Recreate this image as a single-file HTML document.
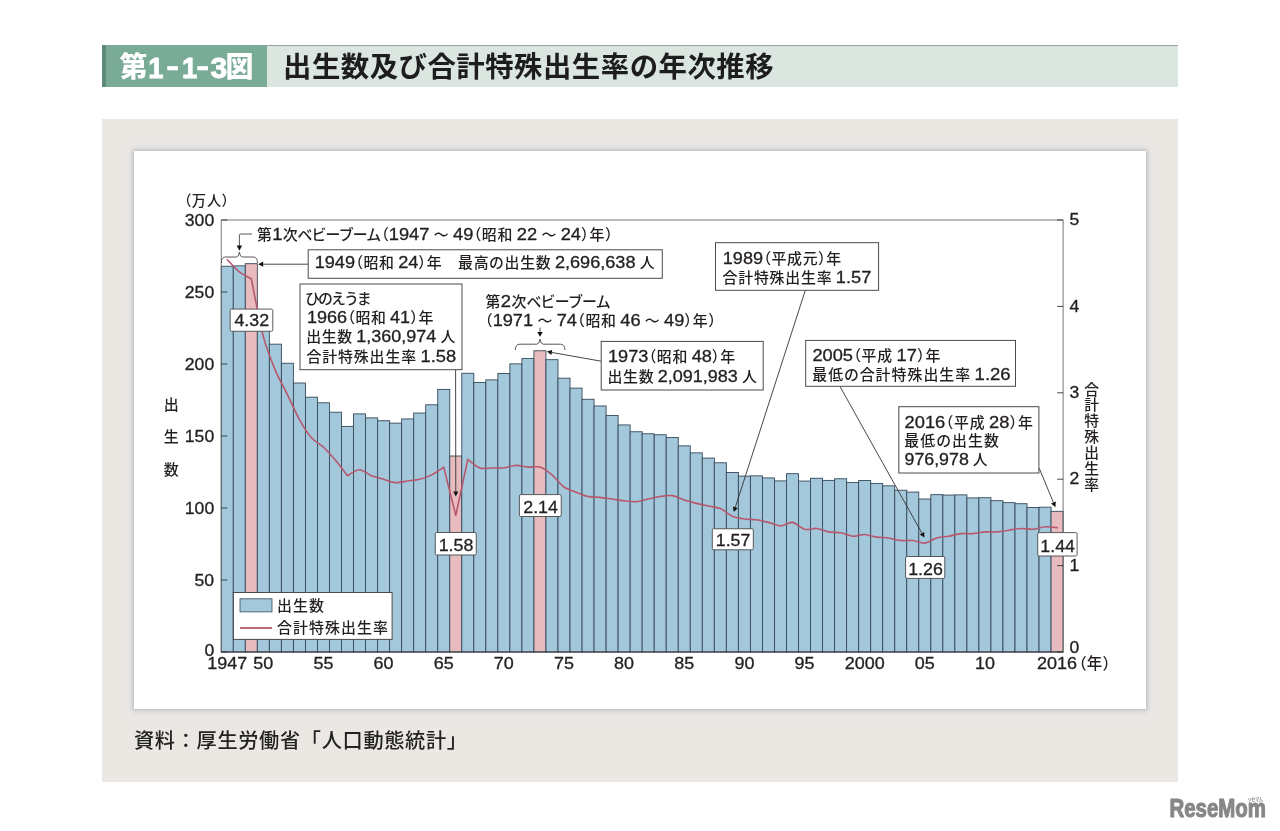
<!DOCTYPE html>
<html><head><meta charset="utf-8"><title>第1-1-3図 出生数及び合計特殊出生率の年次推移</title>
<style>
html,body{margin:0;padding:0;background:#fff;}
body{width:1280px;height:831px;position:relative;overflow:hidden;font-family:"Liberation Sans","Noto Sans CJK JP",sans-serif;}
.hd{position:absolute;left:102px;top:45px;width:1076px;height:42px;background:#dce6e0;border-top:1px solid #93a59e;box-sizing:border-box;}
.hd .tag{position:absolute;left:0;top:-1px;width:164.5px;height:42px;background:#79ab97;border-left:4.5px solid #5f8b7b;box-sizing:border-box;}
.panel{position:absolute;left:102px;top:119px;width:1076px;height:662.5px;background:#ebe8e4;}
.card{position:absolute;left:133.5px;top:151px;width:1012.5px;height:558px;background:#fff;box-shadow:0 0 4px 1px rgba(110,110,120,.40),0 0 9px 4px rgba(222,224,228,.5);}
svg{position:absolute;left:0;top:0;}
svg text{font-family:"Liberation Sans","Noto Sans CJK JP",sans-serif;white-space:pre;}
svg .l{stroke:#231f20;stroke-width:.3px;}
</style></head><body>
<div class="hd"><div class="tag"></div></div>
<div class="panel"></div>
<div class="card"></div>
<svg width="1280" height="831" viewBox="0 0 1280 831">
<text y="77.4" font-size="28" font-weight="900" fill="#fff"><tspan x="119.4" textLength="28" lengthAdjust="spacingAndGlyphs">第</tspan><tspan y="77.6" font-size="30" font-weight="bold" stroke="#fff" stroke-width="0.9"><tspan x="148.2" textLength="15.2" lengthAdjust="spacingAndGlyphs">1</tspan><tspan x="167" textLength="11.6" lengthAdjust="spacingAndGlyphs">−</tspan><tspan x="182" textLength="15.2" lengthAdjust="spacingAndGlyphs">1</tspan><tspan x="196.9" textLength="11.6" lengthAdjust="spacingAndGlyphs">−</tspan><tspan x="210.6" textLength="16.7" lengthAdjust="spacingAndGlyphs">3</tspan></tspan><tspan x="225.6" y="77.4" textLength="28" lengthAdjust="spacingAndGlyphs">図</tspan></text><text x="283" y="76.6" font-size="28.4" font-weight="bold" fill="#1d1d1d" textLength="490.6" lengthAdjust="spacing">出生数及び合計特殊出生率の年次推移</text>
<g font-weight="500">
<rect x="221.25" y="266.25" width="12.03" height="385.75" fill="#a3c7db" stroke="#364a5a" stroke-width="0.9"/>
<rect x="233.28" y="265.85" width="12.03" height="386.15" fill="#a3c7db" stroke="#364a5a" stroke-width="0.9"/>
<rect x="245.3" y="263.68" width="12.03" height="388.32" fill="#e8bbbf" stroke="#364a5a" stroke-width="0.9"/>
<rect x="257.33" y="315.4" width="12.03" height="336.6" fill="#a3c7db" stroke="#364a5a" stroke-width="0.9"/>
<rect x="269.36" y="344.17" width="12.03" height="307.83" fill="#a3c7db" stroke="#364a5a" stroke-width="0.9"/>
<rect x="281.38" y="363.26" width="12.03" height="288.74" fill="#a3c7db" stroke="#364a5a" stroke-width="0.9"/>
<rect x="293.41" y="383" width="12.03" height="269" fill="#a3c7db" stroke="#364a5a" stroke-width="0.9"/>
<rect x="305.44" y="397.18" width="12.03" height="254.82" fill="#a3c7db" stroke="#364a5a" stroke-width="0.9"/>
<rect x="317.46" y="402.78" width="12.03" height="249.22" fill="#a3c7db" stroke="#364a5a" stroke-width="0.9"/>
<rect x="329.49" y="412.2" width="12.03" height="239.8" fill="#a3c7db" stroke="#364a5a" stroke-width="0.9"/>
<rect x="341.51" y="426.39" width="12.03" height="225.61" fill="#a3c7db" stroke="#364a5a" stroke-width="0.9"/>
<rect x="353.54" y="413.9" width="12.03" height="238.1" fill="#a3c7db" stroke="#364a5a" stroke-width="0.9"/>
<rect x="365.57" y="417.84" width="12.03" height="234.16" fill="#a3c7db" stroke="#364a5a" stroke-width="0.9"/>
<rect x="377.59" y="420.73" width="12.03" height="231.27" fill="#a3c7db" stroke="#364a5a" stroke-width="0.9"/>
<rect x="389.62" y="423.13" width="12.03" height="228.87" fill="#a3c7db" stroke="#364a5a" stroke-width="0.9"/>
<rect x="401.65" y="418.92" width="12.03" height="233.08" fill="#a3c7db" stroke="#364a5a" stroke-width="0.9"/>
<rect x="413.67" y="413.03" width="12.03" height="238.97" fill="#a3c7db" stroke="#364a5a" stroke-width="0.9"/>
<rect x="425.7" y="404.79" width="12.03" height="247.21" fill="#a3c7db" stroke="#364a5a" stroke-width="0.9"/>
<rect x="437.73" y="389.39" width="12.03" height="262.61" fill="#a3c7db" stroke="#364a5a" stroke-width="0.9"/>
<rect x="449.75" y="456.02" width="12.03" height="195.98" fill="#e8bbbf" stroke="#364a5a" stroke-width="0.9"/>
<rect x="461.78" y="373.27" width="12.03" height="278.73" fill="#a3c7db" stroke="#364a5a" stroke-width="0.9"/>
<rect x="473.8" y="382.46" width="12.03" height="269.54" fill="#a3c7db" stroke="#364a5a" stroke-width="0.9"/>
<rect x="485.83" y="379.87" width="12.03" height="272.13" fill="#a3c7db" stroke="#364a5a" stroke-width="0.9"/>
<rect x="497.86" y="373.47" width="12.03" height="278.53" fill="#a3c7db" stroke="#364a5a" stroke-width="0.9"/>
<rect x="509.88" y="363.86" width="12.03" height="288.14" fill="#a3c7db" stroke="#364a5a" stroke-width="0.9"/>
<rect x="521.91" y="358.43" width="12.03" height="293.57" fill="#a3c7db" stroke="#364a5a" stroke-width="0.9"/>
<rect x="533.94" y="350.75" width="12.03" height="301.25" fill="#e8bbbf" stroke="#364a5a" stroke-width="0.9"/>
<rect x="545.96" y="359.68" width="12.03" height="292.32" fill="#a3c7db" stroke="#364a5a" stroke-width="0.9"/>
<rect x="557.99" y="378.19" width="12.03" height="273.81" fill="#a3c7db" stroke="#364a5a" stroke-width="0.9"/>
<rect x="570.02" y="388.1" width="12.03" height="263.9" fill="#a3c7db" stroke="#364a5a" stroke-width="0.9"/>
<rect x="582.04" y="399.27" width="12.03" height="252.73" fill="#a3c7db" stroke="#364a5a" stroke-width="0.9"/>
<rect x="594.07" y="405.96" width="12.03" height="246.04" fill="#a3c7db" stroke="#364a5a" stroke-width="0.9"/>
<rect x="606.1" y="415.47" width="12.03" height="236.53" fill="#a3c7db" stroke="#364a5a" stroke-width="0.9"/>
<rect x="618.12" y="424.93" width="12.03" height="227.07" fill="#a3c7db" stroke="#364a5a" stroke-width="0.9"/>
<rect x="630.15" y="431.76" width="12.03" height="220.24" fill="#a3c7db" stroke="#364a5a" stroke-width="0.9"/>
<rect x="642.17" y="433.78" width="12.03" height="218.22" fill="#a3c7db" stroke="#364a5a" stroke-width="0.9"/>
<rect x="654.2" y="434.75" width="12.03" height="217.25" fill="#a3c7db" stroke="#364a5a" stroke-width="0.9"/>
<rect x="666.23" y="437.47" width="12.03" height="214.53" fill="#a3c7db" stroke="#364a5a" stroke-width="0.9"/>
<rect x="678.25" y="445.85" width="12.03" height="206.15" fill="#a3c7db" stroke="#364a5a" stroke-width="0.9"/>
<rect x="690.28" y="452.86" width="12.03" height="199.14" fill="#a3c7db" stroke="#364a5a" stroke-width="0.9"/>
<rect x="702.31" y="458.08" width="12.03" height="193.92" fill="#a3c7db" stroke="#364a5a" stroke-width="0.9"/>
<rect x="714.33" y="462.78" width="12.03" height="189.22" fill="#a3c7db" stroke="#364a5a" stroke-width="0.9"/>
<rect x="726.36" y="472.46" width="12.03" height="179.54" fill="#a3c7db" stroke="#364a5a" stroke-width="0.9"/>
<rect x="738.39" y="476.09" width="12.03" height="175.91" fill="#a3c7db" stroke="#364a5a" stroke-width="0.9"/>
<rect x="750.41" y="475.85" width="12.03" height="176.15" fill="#a3c7db" stroke="#364a5a" stroke-width="0.9"/>
<rect x="762.44" y="477.91" width="12.03" height="174.09" fill="#a3c7db" stroke="#364a5a" stroke-width="0.9"/>
<rect x="774.47" y="480.89" width="12.03" height="171.11" fill="#a3c7db" stroke="#364a5a" stroke-width="0.9"/>
<rect x="786.49" y="473.68" width="12.03" height="178.32" fill="#a3c7db" stroke="#364a5a" stroke-width="0.9"/>
<rect x="798.52" y="481.06" width="12.03" height="170.94" fill="#a3c7db" stroke="#364a5a" stroke-width="0.9"/>
<rect x="810.54" y="478.26" width="12.03" height="173.74" fill="#a3c7db" stroke="#364a5a" stroke-width="0.9"/>
<rect x="822.57" y="480.4" width="12.03" height="171.6" fill="#a3c7db" stroke="#364a5a" stroke-width="0.9"/>
<rect x="834.6" y="478.75" width="12.03" height="173.25" fill="#a3c7db" stroke="#364a5a" stroke-width="0.9"/>
<rect x="846.62" y="482.42" width="12.03" height="169.58" fill="#a3c7db" stroke="#364a5a" stroke-width="0.9"/>
<rect x="858.65" y="480.56" width="12.03" height="171.44" fill="#a3c7db" stroke="#364a5a" stroke-width="0.9"/>
<rect x="870.68" y="483.42" width="12.03" height="168.58" fill="#a3c7db" stroke="#364a5a" stroke-width="0.9"/>
<rect x="882.7" y="485.84" width="12.03" height="166.16" fill="#a3c7db" stroke="#364a5a" stroke-width="0.9"/>
<rect x="894.73" y="490.2" width="12.03" height="161.8" fill="#a3c7db" stroke="#364a5a" stroke-width="0.9"/>
<rect x="906.76" y="492.06" width="12.03" height="159.94" fill="#a3c7db" stroke="#364a5a" stroke-width="0.9"/>
<rect x="918.78" y="499" width="12.03" height="153" fill="#a3c7db" stroke="#364a5a" stroke-width="0.9"/>
<rect x="930.81" y="494.65" width="12.03" height="157.35" fill="#a3c7db" stroke="#364a5a" stroke-width="0.9"/>
<rect x="942.84" y="495.07" width="12.03" height="156.93" fill="#a3c7db" stroke="#364a5a" stroke-width="0.9"/>
<rect x="954.86" y="494.87" width="12.03" height="157.13" fill="#a3c7db" stroke="#364a5a" stroke-width="0.9"/>
<rect x="966.89" y="497.91" width="12.03" height="154.09" fill="#a3c7db" stroke="#364a5a" stroke-width="0.9"/>
<rect x="978.91" y="497.73" width="12.03" height="154.27" fill="#a3c7db" stroke="#364a5a" stroke-width="0.9"/>
<rect x="990.94" y="500.68" width="12.03" height="151.32" fill="#a3c7db" stroke="#364a5a" stroke-width="0.9"/>
<rect x="1002.97" y="502.64" width="12.03" height="149.36" fill="#a3c7db" stroke="#364a5a" stroke-width="0.9"/>
<rect x="1014.99" y="503.71" width="12.03" height="148.29" fill="#a3c7db" stroke="#364a5a" stroke-width="0.9"/>
<rect x="1027.02" y="507.49" width="12.03" height="144.51" fill="#a3c7db" stroke="#364a5a" stroke-width="0.9"/>
<rect x="1039.05" y="507.18" width="12.03" height="144.82" fill="#a3c7db" stroke="#364a5a" stroke-width="0.9"/>
<rect x="1051.07" y="511.32" width="12.03" height="140.68" fill="#e8bbbf" stroke="#364a5a" stroke-width="0.9"/>
<path d="M221.25 652 V220 H1063.1 V652" fill="none" stroke="#666" stroke-width="0.9"/>
<path d="M221.25 652 H1063.1" fill="none" stroke="#333" stroke-width="1.2"/>
<path d="M221.25 652h6" stroke="#333" stroke-width="0.9"/>
<path d="M221.25 580h6" stroke="#333" stroke-width="0.9"/>
<path d="M221.25 508h6" stroke="#333" stroke-width="0.9"/>
<path d="M221.25 436h6" stroke="#333" stroke-width="0.9"/>
<path d="M221.25 364h6" stroke="#333" stroke-width="0.9"/>
<path d="M221.25 292h6" stroke="#333" stroke-width="0.9"/>
<path d="M221.25 220h6" stroke="#333" stroke-width="0.9"/>
<path d="M1063.1 652h-6" stroke="#333" stroke-width="0.9"/>
<path d="M1063.1 565.6h-6" stroke="#333" stroke-width="0.9"/>
<path d="M1063.1 479.2h-6" stroke="#333" stroke-width="0.9"/>
<path d="M1063.1 392.8h-6" stroke="#333" stroke-width="0.9"/>
<path d="M1063.1 306.4h-6" stroke="#333" stroke-width="0.9"/>
<path d="M1063.1 220h-6" stroke="#333" stroke-width="0.9"/>
<path d="M227.26 259.74C231.27 263.78 235.88 269.15 239.29 271.84C242.7 274.53 251.32 278.75 251.32 278.75C251.32 278.75 259.94 323.67 263.34 336.64C266.75 349.61 271.96 362.14 275.37 370.34C278.78 378.54 283.99 387.55 287.4 394.53C290.8 401.5 296.01 413.46 299.42 419.58C302.83 425.7 308.04 433.81 311.45 437.73C314.86 441.64 320.07 444.05 323.47 447.23C326.88 450.41 332.09 456.15 335.5 460.19C338.91 464.23 347.53 475.74 347.53 475.74C347.53 475.74 356.15 469.7 359.55 469.7C362.96 469.7 368.17 474.4 371.58 475.74C374.99 477.09 380.2 478.22 383.61 479.2C387.01 480.18 392.23 482.41 395.63 482.66C399.04 482.9 404.25 481.42 407.66 480.93C411.07 480.44 416.28 480.06 419.69 479.2C423.09 478.34 428.31 476.59 431.71 474.88C435.12 473.17 443.74 467.1 443.74 467.1C443.74 467.1 455.77 515.49 455.77 515.49C455.77 515.49 467.79 459.33 467.79 459.33C467.79 459.33 476.41 466.74 479.82 467.97C483.23 469.19 488.44 467.97 491.84 467.97C495.25 467.97 500.46 468.34 503.87 467.97C507.28 467.6 512.49 465.5 515.9 465.38C519.3 465.25 524.52 466.86 527.92 467.1C531.33 467.35 536.54 466 539.95 467.1C543.36 468.21 548.57 472.06 551.98 474.88C555.38 477.7 560.6 484.53 564 486.98C567.41 489.42 572.62 490.81 576.03 492.16C579.44 493.51 584.65 495.75 588.06 496.48C591.46 497.21 596.68 496.98 600.08 497.34C603.49 497.71 608.7 498.58 612.11 499.07C615.52 499.56 620.73 500.43 624.14 500.8C627.54 501.17 632.75 501.91 636.16 501.66C639.57 501.42 644.78 499.81 648.19 499.07C651.6 498.34 656.81 496.97 660.21 496.48C663.62 495.99 668.83 495.13 672.24 495.62C675.65 496.11 680.86 498.83 684.27 499.94C687.67 501.04 692.89 502.54 696.29 503.39C699.7 504.25 704.91 505.25 708.32 505.98C711.73 506.72 716.94 507.11 720.35 508.58C723.75 510.04 728.97 514.88 732.37 516.35C735.78 517.82 740.99 518.45 744.4 518.94C747.81 519.43 753.02 519.32 756.43 519.81C759.83 520.3 765.05 521.54 768.45 522.4C771.86 523.26 777.07 525.86 780.48 525.86C783.89 525.86 789.1 521.91 792.51 522.4C795.91 522.89 801.12 528.46 804.53 529.31C807.94 530.17 813.15 528.08 816.56 528.45C819.97 528.82 825.18 531.29 828.58 531.9C831.99 532.52 837.2 532.16 840.61 532.77C844.02 533.38 849.23 535.98 852.64 536.22C856.04 536.47 861.26 534.37 864.66 534.5C868.07 534.62 873.28 536.6 876.69 537.09C880.1 537.58 885.31 537.46 888.72 537.95C892.12 538.44 897.34 540.18 900.74 540.54C904.15 540.91 909.36 540.18 912.77 540.54C916.18 540.91 921.39 543.5 924.8 543.14C928.2 542.77 933.42 538.93 936.82 537.95C940.23 536.97 945.44 536.84 948.85 536.22C952.26 535.61 957.47 534 960.88 533.63C964.28 533.26 969.49 533.88 972.9 533.63C976.31 533.39 981.52 532.15 984.93 531.9C988.34 531.66 993.55 532.15 996.95 531.9C1000.36 531.66 1005.57 530.67 1008.98 530.18C1012.39 529.69 1017.6 528.57 1021.01 528.45C1024.41 528.33 1029.63 529.56 1033.03 529.31C1036.44 529.07 1041.65 526.96 1045.06 526.72C1048.47 526.48 1053.08 527.3 1057.09 527.58" fill="none" stroke="#b7586d" stroke-width="1.6" stroke-linejoin="round" stroke-linecap="round"/>
<path d="M308 264.2L263.2 264.2" stroke="#333" stroke-width="0.9" fill="none"/>
<path d="M258.2 264.2L263.2 261.6L263.2 266.8Z" fill="#111"/>
<path d="M455.6 369.7L455.79 491.5" stroke="#333" stroke-width="0.9" fill="none"/>
<path d="M455.8 496.5L453.19 491.5L458.39 491.5Z" fill="#111"/>
<path d="M601.2 361.2L551.82 352.47" stroke="#333" stroke-width="0.9" fill="none"/>
<path d="M546.9 351.6L552.28 349.91L551.37 355.03Z" fill="#111"/>
<path d="M805.3 290.3L735.33 507.24" stroke="#333" stroke-width="0.9" fill="none"/>
<path d="M733.8 512L732.86 506.44L737.81 508.04Z" fill="#111"/>
<path d="M839.9 386.3L921.96 533.23" stroke="#333" stroke-width="0.9" fill="none"/>
<path d="M924.4 537.6L919.69 534.5L924.23 531.97Z" fill="#111"/>
<path d="M1039.2 468.2L1053.48 502.58" stroke="#333" stroke-width="0.9" fill="none"/>
<path d="M1055.4 507.2L1051.08 503.58L1055.88 501.59Z" fill="#111"/>
<path d="M252 234H240.6Q239.4 234 239.4 235.2V246" fill="none" stroke="#444" stroke-width="0.9"/>
<path d="M239.4 250.7L236.7 245.6H242.1Z" fill="#111"/>
<path d="M221.4 263C221.4 259.3 222.4 257 225.8 257H236.3Q238.8 257 239.4 252.2Q240 257 242.5 257H253C256.4 257 257.4 259.3 257.4 263" fill="none" stroke="#444" stroke-width="0.9"/>
<path d="M540 327.5V333" fill="none" stroke="#444" stroke-width="0.9"/>
<path d="M540 336.7L537.3 332H542.7Z" fill="#111"/>
<path d="M515.4 350C515.4 346.5 516.5 344.2 520 344.2H536.8Q539.3 344.2 540 339.2Q540.7 344.2 543.2 344.2H560.3C563.8 344.2 564.9 346.5 564.9 350" fill="none" stroke="#444" stroke-width="0.9"/>
<rect x="308.2" y="249.8" width="354.1" height="28.5" rx="0" fill="#fff" stroke="#4a4a4a" stroke-width="1"/>
<rect x="300" y="284" width="162" height="85.7" rx="0" fill="#fff" stroke="#4a4a4a" stroke-width="1"/>
<rect x="601.2" y="341.4" width="162" height="48.6" rx="0" fill="#fff" stroke="#4a4a4a" stroke-width="1"/>
<rect x="715.5" y="242.7" width="163.1" height="47.6" rx="0" fill="#fff" stroke="#4a4a4a" stroke-width="1"/>
<rect x="805.7" y="340.4" width="209.8" height="45.9" rx="0" fill="#fff" stroke="#4a4a4a" stroke-width="1"/>
<rect x="898.8" y="406.7" width="140.1" height="66.3" rx="0" fill="#fff" stroke="#4a4a4a" stroke-width="1"/>
<rect x="233.4" y="592.5" width="158.7" height="46.9" rx="0" fill="#fff" stroke="#4a4a4a" stroke-width="1"/>
<rect x="240" y="598.8" width="32" height="13.1" fill="#a3c7db" stroke="#364a5a" stroke-width="0.8"/>
<path d="M240 628H272" stroke="#b7586d" stroke-width="1.8"/>
<rect x="230.2" y="309.1" width="42.6" height="22.15" rx="1.4" fill="#fff" stroke="#4a4a4a" stroke-width="0.9"/>
<text class="l" x="234.46" y="326.47" font-size="16.5" textLength="34.68" lengthAdjust="spacingAndGlyphs" fill="#231f20">4.32</text>
<rect x="435.25" y="532.5" width="41" height="22.5" rx="1.4" fill="#fff" stroke="#4a4a4a" stroke-width="0.9"/>
<text class="l" x="438.71" y="550.95" font-size="16.5" textLength="34.68" lengthAdjust="spacingAndGlyphs" fill="#231f20">1.58</text>
<rect x="519.4" y="494.6" width="41.85" height="21.9" rx="1.4" fill="#fff" stroke="#4a4a4a" stroke-width="0.9"/>
<text class="l" x="523.28" y="512.75" font-size="16.5" textLength="34.68" lengthAdjust="spacingAndGlyphs" fill="#231f20">2.14</text>
<rect x="712.3" y="528.75" width="41" height="21.05" rx="1.4" fill="#fff" stroke="#4a4a4a" stroke-width="0.9"/>
<text class="l" x="715.76" y="545.57" font-size="16.5" textLength="34.68" lengthAdjust="spacingAndGlyphs" fill="#231f20">1.57</text>
<rect x="905.6" y="556.5" width="39.2" height="21.9" rx="1.4" fill="#fff" stroke="#4a4a4a" stroke-width="0.9"/>
<text class="l" x="908.16" y="574.65" font-size="16.5" textLength="34.68" lengthAdjust="spacingAndGlyphs" fill="#231f20">1.26</text>
<rect x="1037.7" y="532.6" width="39.4" height="23.4" rx="1.4" fill="#fff" stroke="#4a4a4a" stroke-width="0.9"/>
<text class="l" x="1040.36" y="551.5" font-size="16.5" textLength="34.68" lengthAdjust="spacingAndGlyphs" fill="#231f20">1.44</text>
<text class="l" x="204.4" y="656" font-size="15.6" textLength="9.8" lengthAdjust="spacingAndGlyphs" fill="#231f20">0</text>
<text class="l" x="194.59" y="585.6" font-size="15.6" textLength="19.61" lengthAdjust="spacingAndGlyphs" fill="#231f20">50</text>
<text class="l" x="184.79" y="513.6" font-size="15.6" textLength="29.41" lengthAdjust="spacingAndGlyphs" fill="#231f20">100</text>
<text class="l" x="184.79" y="441.6" font-size="15.6" textLength="29.41" lengthAdjust="spacingAndGlyphs" fill="#231f20">150</text>
<text class="l" x="184.79" y="369.6" font-size="15.6" textLength="29.41" lengthAdjust="spacingAndGlyphs" fill="#231f20">200</text>
<text class="l" x="184.79" y="297.6" font-size="15.6" textLength="29.41" lengthAdjust="spacingAndGlyphs" fill="#231f20">250</text>
<text class="l" x="184.79" y="225.6" font-size="15.6" textLength="29.41" lengthAdjust="spacingAndGlyphs" fill="#231f20">300</text>
<text class="l" x="1069.6" y="653.2" font-size="15.6" textLength="9.8" lengthAdjust="spacingAndGlyphs" fill="#231f20">0</text>
<text class="l" x="1069.6" y="570.8" font-size="15.6" textLength="9.8" lengthAdjust="spacingAndGlyphs" fill="#231f20">1</text>
<text class="l" x="1069.6" y="484.4" font-size="15.6" textLength="9.8" lengthAdjust="spacingAndGlyphs" fill="#231f20">2</text>
<text class="l" x="1069.6" y="398" font-size="15.6" textLength="9.8" lengthAdjust="spacingAndGlyphs" fill="#231f20">3</text>
<text class="l" x="1069.6" y="311.6" font-size="15.6" textLength="9.8" lengthAdjust="spacingAndGlyphs" fill="#231f20">4</text>
<text class="l" x="1069.6" y="225.2" font-size="15.6" textLength="9.8" lengthAdjust="spacingAndGlyphs" fill="#231f20">5</text>
<text class="l" x="207.28" y="669.2" font-size="15.9" textLength="39.97" lengthAdjust="spacingAndGlyphs" fill="#231f20">1947</text>
<text class="l" x="253.35" y="669.2" font-size="15.9" textLength="19.98" lengthAdjust="spacingAndGlyphs" fill="#231f20">50</text>
<text class="l" x="313.48" y="669.2" font-size="15.9" textLength="19.98" lengthAdjust="spacingAndGlyphs" fill="#231f20">55</text>
<text class="l" x="373.61" y="669.2" font-size="15.9" textLength="19.98" lengthAdjust="spacingAndGlyphs" fill="#231f20">60</text>
<text class="l" x="433.75" y="669.2" font-size="15.9" textLength="19.98" lengthAdjust="spacingAndGlyphs" fill="#231f20">65</text>
<text class="l" x="493.88" y="669.2" font-size="15.9" textLength="19.98" lengthAdjust="spacingAndGlyphs" fill="#231f20">70</text>
<text class="l" x="554.01" y="669.2" font-size="15.9" textLength="19.98" lengthAdjust="spacingAndGlyphs" fill="#231f20">75</text>
<text class="l" x="614.14" y="669.2" font-size="15.9" textLength="19.98" lengthAdjust="spacingAndGlyphs" fill="#231f20">80</text>
<text class="l" x="674.28" y="669.2" font-size="15.9" textLength="19.98" lengthAdjust="spacingAndGlyphs" fill="#231f20">85</text>
<text class="l" x="734.41" y="669.2" font-size="15.9" textLength="19.98" lengthAdjust="spacingAndGlyphs" fill="#231f20">90</text>
<text class="l" x="794.54" y="669.2" font-size="15.9" textLength="19.98" lengthAdjust="spacingAndGlyphs" fill="#231f20">95</text>
<text class="l" x="844.68" y="669.2" font-size="15.9" textLength="39.97" lengthAdjust="spacingAndGlyphs" fill="#231f20">2000</text>
<text class="l" x="914.8" y="669.2" font-size="15.9" textLength="19.98" lengthAdjust="spacingAndGlyphs" fill="#231f20">05</text>
<text class="l" x="974.94" y="669.2" font-size="15.9" textLength="19.98" lengthAdjust="spacingAndGlyphs" fill="#231f20">10</text>
<text class="l" x="1037.1" y="669.2" font-size="15.9" textLength="39.97" lengthAdjust="spacingAndGlyphs" fill="#231f20">2016</text>
<text y="668.69" font-size="15.48" fill="#231f20"><tspan x="1071.27">（</tspan><tspan x="1086.86" textLength="15.48" lengthAdjust="spacing">年</tspan><tspan x="1102.44">）</tspan></text>
<text y="205.62" font-size="14.25" fill="#231f20"><tspan x="177.18">（</tspan><tspan x="191.84" textLength="29.32" lengthAdjust="spacing">万人</tspan><tspan x="221.57">）</tspan></text>
<text x="171.2" font-size="15" text-anchor="middle" fill="#231f20"><tspan x="171.2" y="410.1">出</tspan><tspan x="171.2" y="442.35">生</tspan><tspan x="171.2" y="474.6">数</tspan></text>
<text x="1091.7" font-size="14.8" text-anchor="middle" fill="#231f20"><tspan x="1091.7" y="394.6">合</tspan><tspan x="1091.7" y="410.45">計</tspan><tspan x="1091.7" y="426.3">特</tspan><tspan x="1091.7" y="442.15">殊</tspan><tspan x="1091.7" y="458">出</tspan><tspan x="1091.7" y="473.85">生</tspan><tspan x="1091.7" y="489.7">率</tspan></text>
<text y="610.9" font-size="14.91" fill="#231f20"><tspan x="277.04" textLength="46.91" lengthAdjust="spacing">出生数</tspan></text>
<text y="633.3" font-size="14.91" fill="#231f20"><tspan x="277.04" textLength="110.91" lengthAdjust="spacing">合計特殊出生率</tspan></text>
<text y="239.8" font-size="14.91" fill="#231f20"><tspan x="256.91" textLength="14.91" lengthAdjust="spacing">第</tspan><tspan class="l" x="272.23" font-size="15.7" textLength="10.15" lengthAdjust="spacingAndGlyphs">1</tspan><tspan x="282.78" textLength="14.91" lengthAdjust="spacing">次</tspan><tspan x="297.52" textLength="83.71" lengthAdjust="spacing">ベビーブーム</tspan><tspan x="373.92">（</tspan><tspan class="l" x="388.83" font-size="15.7" textLength="40.58" lengthAdjust="spacingAndGlyphs">1947</tspan> <tspan x="433.75" textLength="14.91" lengthAdjust="spacing">～</tspan> <tspan class="l" x="453" font-size="15.7" textLength="20.29" lengthAdjust="spacingAndGlyphs">49</tspan><tspan x="466.55">（</tspan><tspan x="481.87" textLength="30.64" lengthAdjust="spacing">昭和</tspan> <tspan class="l" x="516.85" font-size="15.7" textLength="20.29" lengthAdjust="spacingAndGlyphs">22</tspan> <tspan x="541.48" textLength="14.91" lengthAdjust="spacing">～</tspan> <tspan class="l" x="560.73" font-size="15.7" textLength="20.29" lengthAdjust="spacingAndGlyphs">24</tspan><tspan x="581.02">）</tspan><tspan x="589.6" textLength="14.91" lengthAdjust="spacing">年</tspan><tspan x="604.92">）</tspan></text>
<text y="268.3" font-size="14.91" fill="#231f20"><tspan class="l" x="314.7" font-size="15.7" textLength="40.28" lengthAdjust="spacingAndGlyphs">1949</tspan><tspan x="348.18">（</tspan><tspan x="363.44" textLength="30.52" lengthAdjust="spacing">昭和</tspan> <tspan class="l" x="398.22" font-size="15.7" textLength="20.14" lengthAdjust="spacingAndGlyphs">24</tspan><tspan x="418.36">）</tspan><tspan x="426.82" textLength="61.74" lengthAdjust="spacing">年　最高</tspan><tspan x="489.1" textLength="14.91" lengthAdjust="spacing">の</tspan><tspan x="504.55" textLength="46.13" lengthAdjust="spacing">出生数</tspan> <tspan class="l" x="554.94" font-size="15.7" textLength="80.55" lengthAdjust="spacingAndGlyphs">2,696,638</tspan> <tspan x="639.74" textLength="14.91" lengthAdjust="spacing">人</tspan></text>
<text y="303.6" font-size="14.91" fill="#231f20"><tspan x="305.02" textLength="66.75" lengthAdjust="spacing">ひのえうま</tspan></text>
<text y="322.6" font-size="14.91" fill="#231f20"><tspan class="l" x="306.9" font-size="15.7" textLength="40.13" lengthAdjust="spacingAndGlyphs">1966</tspan><tspan x="340.2">（</tspan><tspan x="355.43" textLength="30.46" lengthAdjust="spacing">昭和</tspan> <tspan class="l" x="390.1" font-size="15.7" textLength="20.06" lengthAdjust="spacingAndGlyphs">41</tspan><tspan x="410.16">）</tspan><tspan x="418.57" textLength="14.91" lengthAdjust="spacing">年</tspan></text>
<text y="342" font-size="14.91" fill="#231f20"><tspan x="306.29" textLength="45.89" lengthAdjust="spacing">出生数</tspan> <tspan class="l" x="356.33" font-size="15.7" textLength="79.91" lengthAdjust="spacingAndGlyphs">1,360,974</tspan> <tspan x="440.4" textLength="14.91" lengthAdjust="spacing">人</tspan></text>
<text y="361.5" font-size="14.91" fill="#231f20"><tspan x="306.44" textLength="109.64" lengthAdjust="spacing">合計特殊出生率</tspan> <tspan class="l" x="420.46" font-size="15.7" textLength="35.64" lengthAdjust="spacingAndGlyphs">1.58</tspan></text>
<text y="306.9" font-size="14.91" fill="#231f20"><tspan x="485.47" textLength="14.91" lengthAdjust="spacing">第</tspan><tspan class="l" x="500.86" font-size="15.7" textLength="10.23" lengthAdjust="spacingAndGlyphs">2</tspan><tspan x="511.56" textLength="14.91" lengthAdjust="spacing">次</tspan><tspan x="526.43" textLength="84.29" lengthAdjust="spacing">ベビーブーム</tspan></text>
<text y="325.9" font-size="14.91" fill="#231f20"><tspan x="477.74">（</tspan><tspan class="l" x="492.65" font-size="15.7" textLength="40.47" lengthAdjust="spacingAndGlyphs">1971</tspan> <tspan x="537.43" textLength="14.91" lengthAdjust="spacing">～</tspan> <tspan class="l" x="556.65" font-size="15.7" textLength="20.23" lengthAdjust="spacingAndGlyphs">74</tspan><tspan x="570.12">（</tspan><tspan x="585.42" textLength="30.6" lengthAdjust="spacing">昭和</tspan> <tspan class="l" x="620.32" font-size="15.7" textLength="20.23" lengthAdjust="spacingAndGlyphs">46</tspan> <tspan x="644.86" textLength="14.91" lengthAdjust="spacing">～</tspan> <tspan class="l" x="664.07" font-size="15.7" textLength="20.23" lengthAdjust="spacingAndGlyphs">49</tspan><tspan x="684.31">）</tspan><tspan x="692.85" textLength="14.91" lengthAdjust="spacing">年</tspan><tspan x="708.15">）</tspan></text>
<text y="361.8" font-size="14.91" fill="#231f20"><tspan class="l" x="608" font-size="15.7" textLength="40.35" lengthAdjust="spacingAndGlyphs">1973</tspan><tspan x="641.56">（</tspan><tspan x="656.84" textLength="30.55" lengthAdjust="spacing">昭和</tspan> <tspan class="l" x="691.66" font-size="15.7" textLength="20.17" lengthAdjust="spacingAndGlyphs">48</tspan><tspan x="711.83">）</tspan><tspan x="720.32" textLength="14.91" lengthAdjust="spacing">年</tspan></text>
<text y="382.2" font-size="14.91" fill="#231f20"><tspan x="607.6" textLength="45.95" lengthAdjust="spacing">出生数</tspan> <tspan class="l" x="657.73" font-size="15.7" textLength="80.07" lengthAdjust="spacingAndGlyphs">2,091,983</tspan> <tspan x="741.98" textLength="14.91" lengthAdjust="spacing">人</tspan></text>
<text y="263.9" font-size="14.91" fill="#231f20"><tspan class="l" x="722.8" font-size="15.7" textLength="40.23" lengthAdjust="spacingAndGlyphs">1989</tspan><tspan x="756.22">（</tspan><tspan x="771.47" textLength="46.09" lengthAdjust="spacing">平成元</tspan><tspan x="817.9">）</tspan><tspan x="826.35" textLength="14.91" lengthAdjust="spacing">年</tspan></text>
<text y="282.6" font-size="14.91" fill="#231f20"><tspan x="722.49" textLength="109.07" lengthAdjust="spacing">合計特殊出生率</tspan> <tspan class="l" x="835.87" font-size="15.7" textLength="35.43" lengthAdjust="spacingAndGlyphs">1.57</tspan></text>
<text y="360.8" font-size="14.91" fill="#231f20"><tspan class="l" x="812.4" font-size="15.7" textLength="40.6" lengthAdjust="spacingAndGlyphs">2005</tspan><tspan x="846.27">（</tspan><tspan x="861.59" textLength="30.65" lengthAdjust="spacing">平成</tspan> <tspan class="l" x="896.58" font-size="15.7" textLength="20.3" lengthAdjust="spacingAndGlyphs">17</tspan><tspan x="916.88">）</tspan><tspan x="925.48" textLength="14.91" lengthAdjust="spacing">年</tspan></text>
<text y="380" font-size="14.91" fill="#231f20"><tspan x="812.21" textLength="30.84" lengthAdjust="spacing">最低</tspan><tspan x="843.9" textLength="14.91" lengthAdjust="spacing">の</tspan><tspan x="859.67" textLength="110.48" lengthAdjust="spacing">合計特殊出生率</tspan> <tspan class="l" x="974.64" font-size="15.7" textLength="35.96" lengthAdjust="spacingAndGlyphs">1.26</tspan></text>
<text y="428.2" font-size="14.91" fill="#231f20"><tspan class="l" x="904.5" font-size="15.7" textLength="40.76" lengthAdjust="spacingAndGlyphs">2016</tspan><tspan x="938.56">（</tspan><tspan x="953.91" textLength="30.71" lengthAdjust="spacing">平成</tspan> <tspan class="l" x="989.01" font-size="15.7" textLength="20.38" lengthAdjust="spacingAndGlyphs">28</tspan><tspan x="1009.39">）</tspan><tspan x="1018.04" textLength="14.91" lengthAdjust="spacing">年</tspan></text>
<text y="446.1" font-size="14.91" fill="#231f20"><tspan x="904.34" textLength="30.92" lengthAdjust="spacing">最低</tspan><tspan x="936.19" textLength="14.91" lengthAdjust="spacing">の</tspan><tspan x="952.03" textLength="46.92" lengthAdjust="spacing">出生数</tspan></text>
<text y="465.2" font-size="14.91" fill="#231f20"><tspan class="l" x="904.5" font-size="15.7" textLength="64.32" lengthAdjust="spacingAndGlyphs">976,978</tspan> <tspan x="972.87" textLength="14.91" lengthAdjust="spacing">人</tspan></text>
</g>
<text x="134" y="748.2" font-size="20.2" font-weight="500" fill="#222" textLength="333" lengthAdjust="spacing">資料：厚生労働省「人口動態統計」</text><text x="1169.5" y="816.6" font-size="25" font-weight="bold" fill="#878787" textLength="96.5" lengthAdjust="spacingAndGlyphs" stroke="#878787" stroke-width="1.1" stroke-linejoin="round">ReseMom</text><text x="1247.5" y="800.8" font-size="4.2" font-weight="bold" fill="#888" textLength="15.5" lengthAdjust="spacing">リセマム</text>
</svg>
</body></html>
